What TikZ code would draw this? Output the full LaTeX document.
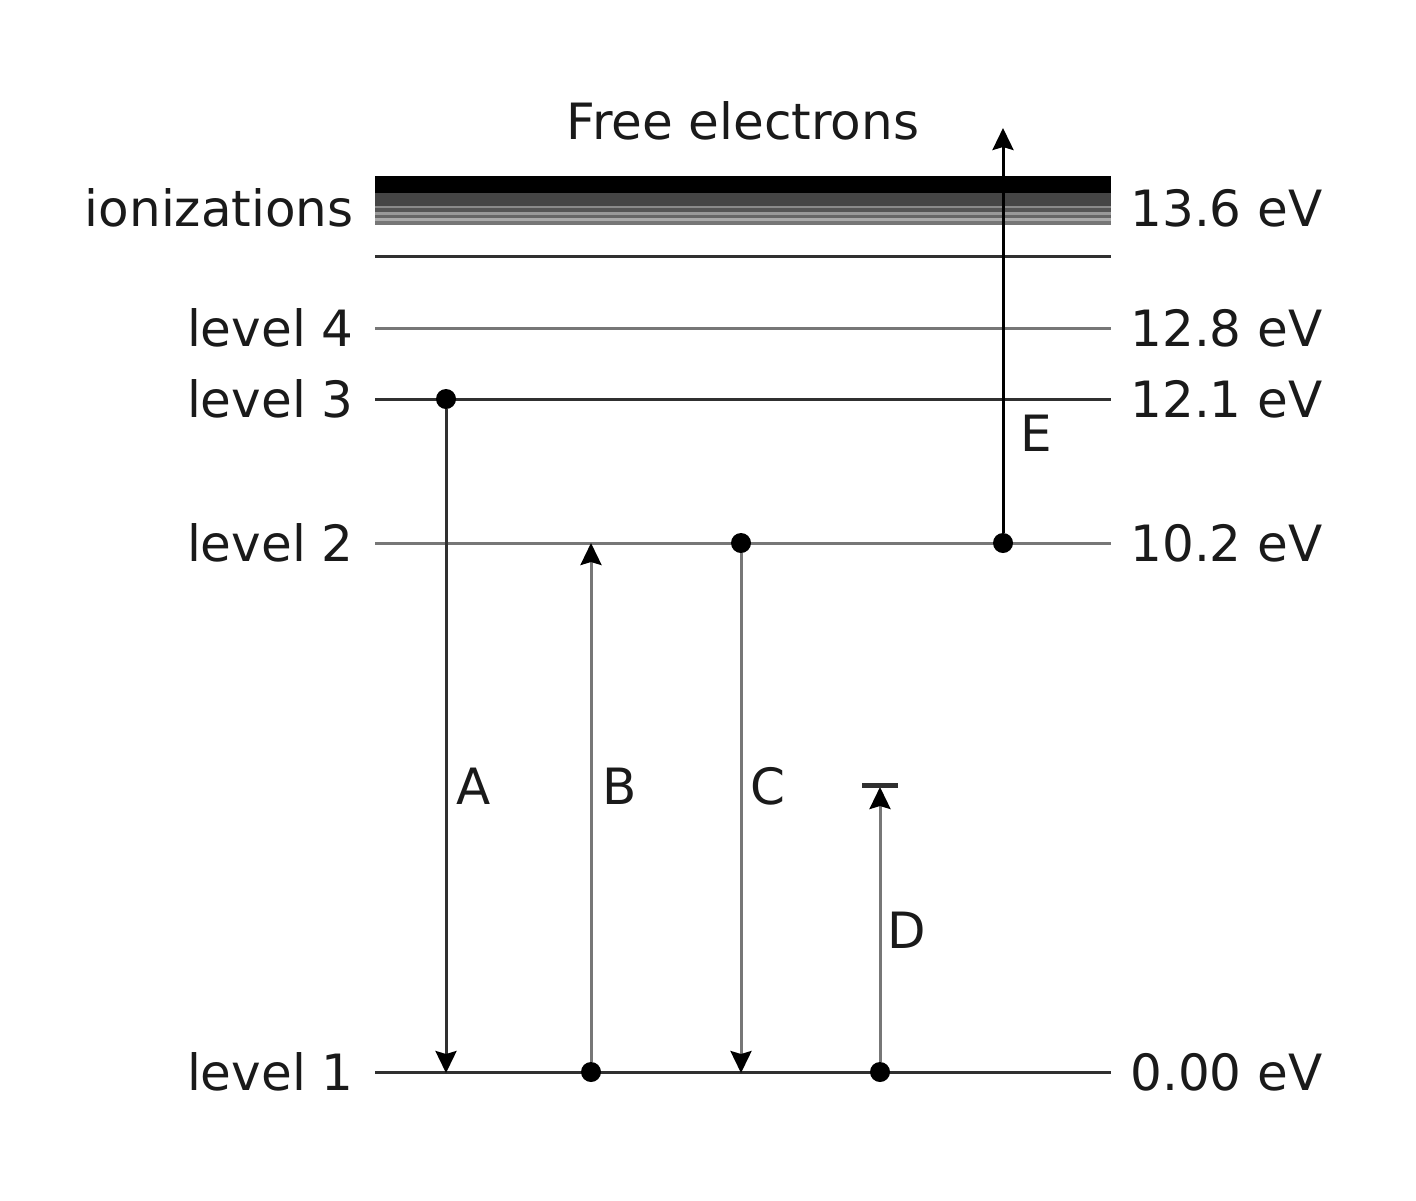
\documentclass[tikz,border=0pt]{standalone}
\usepackage{fontspec}
\setmainfont{DejaVu Sans}
\usetikzlibrary{arrows.meta}
\definecolor{dk}{HTML}{303030}
\definecolor{md}{HTML}{777777}
\definecolor{txt}{HTML}{1A1A1A}
\definecolor{bA}{HTML}{454545}
\definecolor{bB}{HTML}{8A8A8A}
\definecolor{bC}{HTML}{555555}
\definecolor{bD}{HTML}{999999}
\definecolor{bE}{HTML}{666666}
\definecolor{bF}{HTML}{AAAAAA}
\definecolor{bG}{HTML}{777777}
\begin{document}
\begin{tikzpicture}[x=0.5pt,y=-0.5pt,
  lbl/.style={inner sep=0pt,text=txt,font=\fontsize{25}{30}\selectfont},
  lvl/.style={line width=1.5pt},
  dot/.style={circle,fill=black,inner sep=0pt,minimum size=10pt},
  tip/.style={-{Stealth[length=11pt,width=10.5pt,inset=1.5pt,color=black]}},
  trans/.style={line width=1.5pt,tip}]
\useasboundingbox (0,0) rectangle (1416,1200);
% ionization band
\fill[black] (375,176) rectangle (1111,193);
\fill[bA] (375,193) rectangle (1111,206);
\fill[bB] (375,206) rectangle (1111,208);
\fill[bC] (375,208) rectangle (1111,212);
\fill[bD] (375,212) rectangle (1111,215);
\fill[bE] (375,215) rectangle (1111,218);
\fill[bF] (375,218) rectangle (1111,221);
\fill[bG] (375,221) rectangle (1111,225);
% level line end points
\coordinate (i0w) at (375,256); \coordinate (i0e) at (1111,256);
\coordinate (l4w) at (375,328); \coordinate (l4e) at (1111,328);
\coordinate (l3w) at (375,399); \coordinate (l3e) at (1111,399);
\coordinate (l2w) at (375,543); \coordinate (l2e) at (1111,543);
\coordinate (l1w) at (375,1072); \coordinate (l1e) at (1111,1072);
\draw[lvl,dk] (i0w) -- (i0e);
\draw[lvl,md] (l4w) -- (l4e);
\draw[lvl,dk] (l3w) -- (l3e);
\draw[lvl,md] (l2w) -- (l2e);
\draw[lvl,dk] (l1w) -- (l1e);
% left labels
\node[lbl,anchor=base east] (tion) at (354,226) {ionizations};
\node[lbl,anchor=base east] (t4) at (354,346) {level 4};
\node[lbl,anchor=base east] (t3) at (354,417) {level 3};
\node[lbl,anchor=base east] (t2) at (354,561) {level 2};
\node[lbl,anchor=base east] (t1) at (354,1090) {level 1};
% right labels
\node[lbl,anchor=base west] (e5) at (1130,226) {13.6 eV};
\node[lbl,anchor=base west] (e4) at (1130,346) {12.8 eV};
\node[lbl,anchor=base west] (e3) at (1130,417) {12.1 eV};
\node[lbl,anchor=base west] (e2) at (1130,561) {10.2 eV};
\node[lbl,anchor=base west] (e1) at (1130,1090) {0.00 eV};
\node[lbl,anchor=base] (free) at (743,139) {Free electrons};
% transition end points and dots
\node[dot] (a0) at (446,399) {};
\coordinate (a1) at (446,1073);
\node[dot] (b0) at (591,1072) {};
\coordinate (b1) at (591,543);
\node[dot] (c0) at (741,543) {};
\coordinate (c1) at (741,1073);
\node[dot] (d0) at (880,1072) {};
\coordinate (d1) at (880,787);
\coordinate (dbl) at (862,785); \coordinate (dbr) at (898,785);
\node[dot] (e0) at (1003,543) {};
\coordinate (ef) at (1003,128);
% transitions
\draw[trans,dk] (a0) -- (a1);
\draw[trans,md] (b0) -- (b1);
\draw[trans,md] (c0) -- (c1);
\draw[trans,md] (d0) -- (d1);
\draw[line width=2.5pt,dk] (dbl) -- (dbr);
\draw[trans,black] (e0) -- (ef);
% transition labels
\node[lbl,anchor=base] (la) at (474,804) {A};
\node[lbl,anchor=base] (lb) at (620,804) {B};
\node[lbl,anchor=base] (lc) at (768,804) {C};
\node[lbl,anchor=base] (ld) at (907,948) {D};
\node[lbl,anchor=base] (le) at (1036,451) {E};
\end{tikzpicture}
\end{document}
